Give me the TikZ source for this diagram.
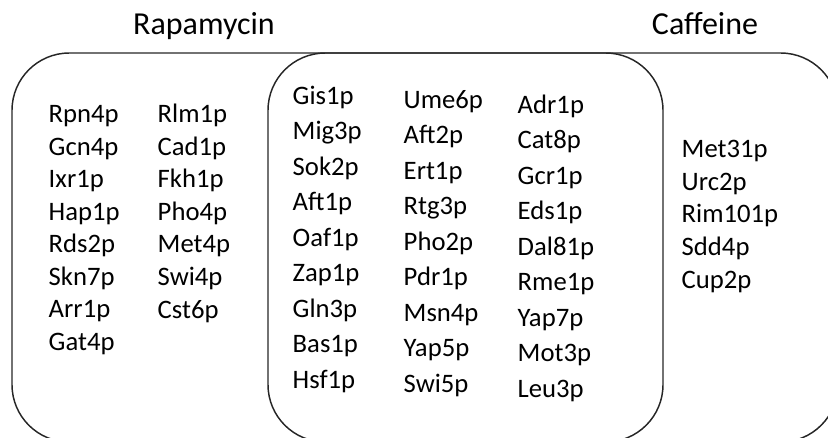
\documentclass[tikz,border=0pt]{standalone}
\usepackage{fontspec}
\setmainfont{Carlito}

\begin{document}
\begin{tikzpicture}[x=0.75pt, y=-0.75pt, line width=1.1pt, every node/.style={inner sep=0pt},
  settitle/.style={font=\fontsize{24}{28}\selectfont, anchor=base},
  genes/.style={font=\fontsize{20}{24.4}\selectfont, align=left, anchor=base west},
  genes wide/.style={genes, font=\fontsize{20}{26.6}\selectfont}]
\useasboundingbox (0,0) rectangle (828,437);
\clip (0,0) rectangle (828,437);
% the two sets
\draw[black!85, rounded corners=43pt] (12,53) rectangle (663,442);
\draw[black!85, rounded corners=43pt] (268,53) rectangle (838,442);
\node[settitle] (rapa) at (204,34) {Rapamycin};
\node[settitle] (caff) at (705,34) {Caffeine};
% rapamycin only (placed at the baseline of the last line)
\node[genes] (rapa1) at (48,350.5) {Rpn4p\\Gcn4p\\Ixr1p\\Hap1p\\Rds2p\\Skn7p\\Arr1p\\Gat4p};
\node[genes] (rapa2) at (157,318) {Rlm1p\\Cad1p\\Fkh1p\\Pho4p\\Met4p\\Swi4p\\Cst6p};
% both
\node[genes wide] (both1) at (292,388) {Gis1p\\Mig3p\\Sok2p\\Aft1p\\Oaf1p\\Zap1p\\Gln3p\\Bas1p\\Hsf1p};
\node[genes wide] (both2) at (403,392) {Ume6p\\Aft2p\\Ert1p\\Rtg3p\\Pho2p\\Pdr1p\\Msn4p\\Yap5p\\Swi5p};
\node[genes wide] (both3) at (517,397) {Adr1p\\Cat8p\\Gcr1p\\Eds1p\\Dal81p\\Rme1p\\Yap7p\\Mot3p\\Leu3p};
% caffeine only
\node[genes] (caff1) at (681,288) {Met31p\\Urc2p\\Rim101p\\Sdd4p\\Cup2p};
\end{tikzpicture}
\end{document}
